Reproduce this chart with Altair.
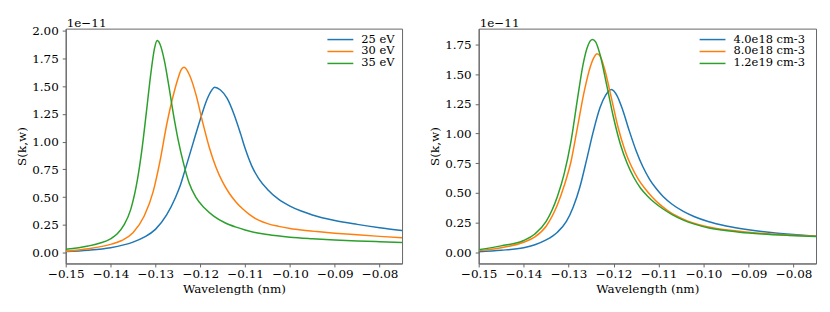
import altair as alt
import pandas as pd

FONT = "DejaVu Serif, Liberation Serif, Noto Serif, serif"
COLORS = ["#1f77b4", "#ff7f0e", "#2ca02c"]

# ---------------- left panel: temperature ----------------
temp_labels = ["25 eV", "30 eV", "35 eV"]

x_25 = [-0.15, -0.145, -0.14, -0.135, -0.1325, -0.13, -0.1275, -0.1255, -0.1245, -0.1235,
        -0.1215, -0.12, -0.1185, -0.1175, -0.1168, -0.1155, -0.114, -0.1125, -0.111, -0.11,
        -0.1085, -0.107, -0.105, -0.1025, -0.10, -0.0975, -0.095, -0.09, -0.085, -0.08, -0.075]
y_25 = [0.01, 0.022, 0.045, 0.095, 0.14, 0.21, 0.34, 0.50, 0.60, 0.73,
        1.00, 1.20, 1.38, 1.46, 1.49, 1.465, 1.39, 1.25, 1.07, 0.94,
        0.78, 0.67, 0.57, 0.48, 0.42, 0.375, 0.34, 0.29, 0.255, 0.225, 0.20]

x_30 = [-0.15, -0.145, -0.14, -0.1375, -0.135, -0.1325, -0.1305, -0.129, -0.1275, -0.126,
        -0.1248, -0.1243, -0.1236, -0.1224, -0.121, -0.1195, -0.118, -0.1165, -0.115, -0.1135,
        -0.112, -0.1105, -0.109, -0.107, -0.105, -0.1025, -0.10, -0.097, -0.094, -0.09,
        -0.085, -0.08, -0.075]
y_30 = [0.012, 0.035, 0.075, 0.11, 0.18, 0.33, 0.55, 0.82, 1.15, 1.42,
        1.59, 1.645, 1.67, 1.60, 1.43, 1.18, 0.95, 0.77, 0.635, 0.533,
        0.455, 0.393, 0.343, 0.293, 0.262, 0.237, 0.218, 0.202, 0.19, 0.176,
        0.161, 0.147, 0.134]

x_35 = [-0.15, -0.145, -0.1425, -0.14, -0.1385, -0.137, -0.1355, -0.134, -0.133, -0.132,
        -0.131, -0.1302, -0.1296, -0.129, -0.128, -0.127, -0.126, -0.125, -0.1237, -0.1225,
        -0.121, -0.119, -0.117, -0.1145, -0.112, -0.11, -0.1075, -0.105, -0.10, -0.095,
        -0.09, -0.085, -0.08, -0.075]
y_35 = [0.03, 0.06, 0.085, 0.125, 0.17, 0.25, 0.39, 0.66, 0.93, 1.27,
        1.62, 1.84, 1.91, 1.88, 1.73, 1.50, 1.25, 1.03, 0.80, 0.63,
        0.50, 0.40, 0.33, 0.27, 0.23, 0.205, 0.18, 0.163, 0.14, 0.126,
        0.115, 0.106, 0.099, 0.092]

# ---------------- right panel: density ----------------
dens_labels = ["4.0e18 cm-3", "8.0e18 cm-3", "1.2e19 cm-3"]

x_4e18 = [-0.15, -0.145, -0.14, -0.1375, -0.135, -0.1325, -0.1305, -0.129, -0.1275, -0.126,
          -0.1245, -0.123, -0.1218, -0.1205, -0.1192, -0.118, -0.1165, -0.115, -0.1135, -0.112,
          -0.1105, -0.109, -0.107, -0.1045, -0.102, -0.099, -0.095, -0.09, -0.085, -0.08, -0.075]
y_4e18 = [0.006, 0.018, 0.04, 0.065, 0.105, 0.17, 0.26, 0.38, 0.55, 0.78,
          1.02, 1.22, 1.32, 1.37, 1.315, 1.20, 1.02, 0.855, 0.72, 0.615,
          0.535, 0.47, 0.405, 0.345, 0.30, 0.26, 0.222, 0.19, 0.167, 0.15, 0.136]

x_8e18 = [-0.15, -0.145, -0.14, -0.1375, -0.135, -0.1325, -0.131, -0.1295, -0.128, -0.1265,
          -0.1252, -0.1243, -0.1237, -0.123, -0.122, -0.1205, -0.119, -0.1175, -0.116, -0.1145,
          -0.113, -0.1115, -0.11, -0.108, -0.106, -0.1035, -0.101, -0.098, -0.095, -0.09,
          -0.085, -0.08, -0.075]
y_8e18 = [0.015, 0.04, 0.085, 0.13, 0.22, 0.40, 0.56, 0.76, 1.06, 1.36,
          1.56, 1.645, 1.67, 1.65, 1.54, 1.30, 1.05, 0.86, 0.72, 0.615,
          0.535, 0.468, 0.412, 0.352, 0.306, 0.263, 0.232, 0.207, 0.19, 0.17,
          0.155, 0.144, 0.135]

x_12e19 = [-0.15, -0.145, -0.14, -0.1375, -0.135, -0.1325, -0.131, -0.1295, -0.128, -0.1268,
           -0.1257, -0.1247, -0.124, -0.123, -0.1215, -0.12, -0.1185, -0.117, -0.1155, -0.114,
           -0.1125, -0.111, -0.109, -0.107, -0.1045, -0.102, -0.099, -0.096, -0.092, -0.087,
           -0.081, -0.075]
y_12e19 = [0.023, 0.055, 0.10, 0.155, 0.26, 0.47, 0.66, 0.93, 1.30, 1.58,
           1.74, 1.79, 1.77, 1.66, 1.40, 1.13, 0.91, 0.75, 0.63, 0.54,
           0.475, 0.422, 0.365, 0.318, 0.272, 0.238, 0.207, 0.188, 0.17, 0.155,
           0.143, 0.134]

x_ticks = [-0.15, -0.14, -0.13, -0.12, -0.11, -0.10, -0.09, -0.08]
left_y_ticks = [0.0, 0.25, 0.5, 0.75, 1.0, 1.25, 1.5, 1.75, 2.0]
right_y_ticks = [0.0, 0.25, 0.5, 0.75, 1.0, 1.25, 1.5, 1.75]
offset_text = "1e\u221211"
x_title = "Wavelength (nm)"
y_title = "S(k,w)"

FS = 12
LFS = 11.5


def frame(xs_list, ys_list, labels):
    rows = []
    for xs, ys, lab in zip(xs_list, ys_list, labels):
        for xv, yv in zip(xs, ys):
            rows.append({"wl": xv, "S": yv, "series": lab})
    return pd.DataFrame(rows)


def panel(df, labels, ydom, yticks, width, legend_x):
    lines = alt.Chart(df).mark_line(strokeWidth=1.5, interpolate="monotone", clip=True).encode(
        x=alt.X("wl:Q", scale=alt.Scale(domain=[-0.15, -0.075], nice=False, zero=False),
                axis=alt.Axis(values=x_ticks, format=".2f", title=x_title)),
        y=alt.Y("S:Q", scale=alt.Scale(domain=ydom, nice=False, zero=False),
                axis=alt.Axis(values=yticks, format=".2f", title=y_title)),
        color=alt.Color("series:N", scale=alt.Scale(domain=labels, range=COLORS), legend=None),
        order=alt.Order("wl:Q"),
    )
    off = alt.Chart(alt.Data(values=[{"t": offset_text}])).mark_text(
        align="left", baseline="alphabetic", font=FONT, fontSize=FS, color="black"
    ).encode(x=alt.value(1), y=alt.value(-2), text="t:N")
    layers = [lines, off]
    for i, (lab, col) in enumerate(zip(labels, COLORS)):
        ly = 11 + 12 * i
        d = alt.Data(values=[{"s": lab}])
        rule = alt.Chart(d).mark_rule(color=col, strokeWidth=1.5).encode(
            x=alt.value(legend_x), x2=alt.value(legend_x + 26), y=alt.value(ly))
        txt = alt.Chart(d).mark_text(
            align="left", baseline="middle", font=FONT, fontSize=LFS, color="black"
        ).encode(x=alt.value(legend_x + 34), y=alt.value(ly), text="s:N")
        layers += [rule, txt]
    return alt.layer(*layers).properties(width=width, height=236)


left_df = frame([x_25, x_30, x_35], [y_25, y_30, y_35], temp_labels)
right_df = frame([x_4e18, x_8e18, x_12e19], [y_4e18, y_8e18, y_12e19], dens_labels)

left = panel(left_df, temp_labels, [-0.097, 2.018], left_y_ticks, 338, 263)
right = panel(right_df, dens_labels, [-0.093, 1.882], right_y_ticks, 339, 222)

chart = alt.hconcat(left, right, spacing=25).properties(
    padding={"left": 7, "top": 7, "right": 5, "bottom": 5}
).configure_view(
    stroke="#666666", strokeWidth=1
).configure_axis(
    grid=False,
    domainColor="#666666",
    tickColor="#666666",
    tickSize=3.5,
    labelFont=FONT,
    labelFontSize=FS,
    labelColor="black",
    labelFlush=False,
    labelOverlap=False,
    titleFont=FONT,
    titleFontSize=FS,
    titleFontWeight="normal",
    titleColor="black",
).configure_axisX(
    labelPadding=2,
    titlePadding=4
).configure_axisY(
    labelPadding=4,
    titlePadding=3
)

chart.save("out.html", embed_options={"renderer": "svg", "actions": False})
